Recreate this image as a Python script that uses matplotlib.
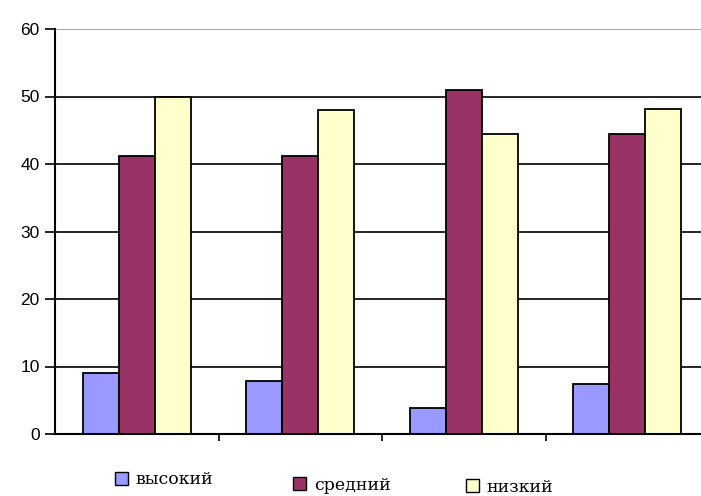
import matplotlib
matplotlib.use("Agg")
import matplotlib.pyplot as plt
import matplotlib.patches as mpatches
import numpy as np

categories = ["1", "2", "3", "4"]
series_names = ["высокий", "средний", "низкий"]
high = [9.1, 7.9, 3.9, 7.4]
medium = [41.2, 41.2, 51.0, 44.4]
low = [50.0, 48.0, 44.4, 48.2]
y_ticks = [0, 10, 20, 30, 40, 50, 60]

colors = ["#9999ff", "#993366", "#ffffcc"]

fig = plt.figure(figsize=(7.01, 4.96), dpi=100)
W, H = 701, 496
ax = fig.add_axes([55 / W, 62 / H, 654 / W, 405 / H])

x = np.arange(len(categories))
bw = 0.22
for i, (vals, c) in enumerate(zip([high, medium, low], colors)):
    ax.bar(x + (i - 1) * bw, vals, width=bw, color=c, edgecolor="black",
           linewidth=1.3, zorder=3, label=series_names[i])

for t in y_ticks[1:]:
    ax.axhline(t, color="#999999" if t == y_ticks[-1] else "black",
               linewidth=1.2, zorder=1)

ax.set_xlim(-0.5, len(categories) - 0.5)
ax.set_ylim(0, 60)
ax.set_yticks(y_ticks)
ax.set_yticklabels([str(t) for t in y_ticks], fontfamily="Liberation Sans", fontsize=12.5)
ax.set_xticks(np.arange(len(categories) - 1) + 0.5)
ax.set_xticklabels([])
ax.tick_params(axis="y", direction="out", length=7, width=1.2, pad=4)
ax.tick_params(axis="x", direction="out", length=5, width=1.2)
for s in ["top", "right"]:
    ax.spines[s].set_visible(False)
for s in ["left", "bottom"]:
    ax.spines[s].set_linewidth(1.5)
ax.spines["bottom"].set_zorder(4)

# legend entries (slightly staggered as in reference)
pos = [(115, 480), (293, 485), (466, 487)]
for name, c, (px, py) in zip(series_names, colors, pos):
    h = mpatches.Patch(facecolor=c, edgecolor="black", linewidth=1)
    fig.legend([h], [name], loc="center left",
               bbox_to_anchor=(px / W, 1 - py / H), frameon=False,
               prop={"family": "DejaVu Serif", "size": 12.5},
               handlelength=0.75, handleheight=0.75, handletextpad=0.45,
               borderpad=0, borderaxespad=0)

fig.savefig("out.png", dpi=100)
